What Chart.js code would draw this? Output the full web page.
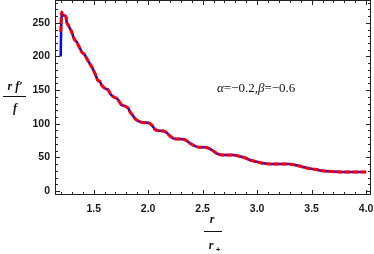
<!DOCTYPE html>
<html>
<head>
<meta charset="utf-8">
<script src="https://cdn.jsdelivr.net/npm/chart.js@4/dist/chart.umd.min.js"></script>
<style>
  html, body { margin: 0; padding: 0; background: #fff; }
  canvas { display: block; }
</style>
</head>
<body>
<canvas id="plot" width="374" height="254"></canvas>
<script>
// =======================
// Data
// =======================
const rValues = [
  1.197, 1.206, 1.221, 1.246, 1.252, 1.267, 1.282, 1.298, 1.313, 1.328,
  1.344, 1.359, 1.374, 1.390, 1.420, 1.436, 1.482, 1.512, 1.537, 1.558,
  1.573, 1.604, 1.634, 1.650, 1.680, 1.711, 1.726, 1.757, 1.787, 1.818,
  1.834, 1.860, 1.890, 1.925, 1.971, 2.001, 2.033, 2.063, 2.093, 2.139,
  2.170, 2.201, 2.231, 2.277, 2.323, 2.354, 2.384, 2.430, 2.476, 2.522,
  2.584, 2.629, 2.675, 2.721, 2.782, 2.828, 2.874, 2.935, 2.997, 3.057,
  3.119, 3.226, 3.287, 3.348, 3.410, 3.471, 3.532, 3.594, 3.654, 3.716,
  3.808, 3.899, 4.000
];
// red dashed curve (drawn on top)
const redValues = [
  236.6, 266.3, 261.4, 258.9, 251.5, 246.6, 241.7, 236.6, 229.2, 224.3,
  221.8, 216.9, 212.0, 206.9, 202.0, 197.1, 184.6, 174.8, 164.9, 162.4,
  157.5, 152.6, 150.0, 145.1, 140.1, 137.7, 135.2, 127.7, 126.3, 122.8,
  117.5, 112.0, 106.0, 102.9, 101.5, 101.5, 98.0, 91.7, 89.6, 89.1,
  86.6, 81.7, 78.3, 77.2, 76.8, 74.7, 70.9, 66.8, 64.9, 64.9,
  60.9, 56.0, 53.5, 53.5, 53.5, 52.0, 50.1, 46.0, 43.5, 41.1,
  40.1, 40.1, 40.1, 38.6, 36.1, 33.7, 32.2, 30.2, 29.3, 28.7,
  28.2, 28.2, 28.2
];
// blue solid curve: same as red except the very start
const blueValues = [200.0, 262.0].concat(redValues.slice(2));

const xTicks = [1.5, 2.0, 2.5, 3.0, 3.5, 4.0];
const yTicks = [0, 50, 100, 150, 200, 250];

const xRange = [1.145, 4.045];
const yRange = [-6, 284];

// =======================
// Helpers
// =======================
function toPoints(xs, ys) {
  return xs.map((x, i) => ({ x: x, y: ys[i] }));
}

// frame, inward ticks, axis labels and the parameter note
const framePlugin = {
  id: 'frame',
  afterDraw(chart) {
    const ctx = chart.ctx;
    const a = chart.chartArea;
    const xs = chart.scales.x, ys = chart.scales.y;
    ctx.save();
    ctx.strokeStyle = '#222';
    ctx.lineWidth = 1;
    ctx.strokeRect(a.left + 0.5, a.top + 0.5, a.right - a.left - 1, a.bottom - a.top - 1);

    ctx.beginPath();
    for (let i = 12; i <= 40; i++) {
      const v = i / 10;
      const px = Math.round(xs.getPixelForValue(v)) + 0.5;
      const len = (i % 5 === 0) ? 5 : 3;
      ctx.moveTo(px, a.bottom); ctx.lineTo(px, a.bottom - len);
      ctx.moveTo(px, a.top); ctx.lineTo(px, a.top + len);
    }
    for (let v = 0; v <= 280; v += 10) {
      const py = Math.round(ys.getPixelForValue(v)) + 0.5;
      const len = (v % 50 === 0) ? 5 : 3;
      ctx.moveTo(a.left, py); ctx.lineTo(a.left + len, py);
      ctx.moveTo(a.right, py); ctx.lineTo(a.right - len, py);
    }
    ctx.stroke();

    // y label: r f' / f
    ctx.fillStyle = '#111';
    ctx.textAlign = 'center';
    ctx.textBaseline = 'alphabetic';
    ctx.font = "bold italic 12px 'Liberation Serif', serif";
    ctx.fillText('r f\u2032', 15, 90);
    ctx.fillText('f', 15, 112);
    ctx.fillRect(3, 96, 23, 1);

    // x label: r / r+
    ctx.fillText('r', 212, 223);
    ctx.fillRect(204, 231, 18, 1);
    ctx.fillText('r', 211, 249);
    ctx.font = "bold 8px 'Liberation Sans', sans-serif";
    ctx.fillText('+', 218, 252);

    // parameter note
    ctx.textAlign = 'left';
    let x = 217;
    const parts = [['\u03B1', true], ['=\u22120.2,', false], ['\u03B2', true], ['=\u22120.6', false]];
    parts.forEach(p => {
      ctx.font = (p[1] ? 'italic ' : '') + "13px 'Liberation Serif', serif";
      ctx.fillText(p[0], x, 92);
      x += ctx.measureText(p[0]).width;
    });
    ctx.restore();
  }
};

// =======================
// Chart
// =======================
Chart.defaults.font.family = "'Liberation Sans', Arial, sans-serif";

new Chart(document.getElementById('plot').getContext('2d'), {
  type: 'scatter',
  data: {
    datasets: [
      {
        data: toPoints(rValues, redValues),
        showLine: true,
        borderColor: 'rgb(255,0,0)',
        borderWidth: 3,
        borderDash: [6, 2],
        pointRadius: 0,
        cubicInterpolationMode: 'monotone',
        order: 0
      },
      {
        data: toPoints(rValues, blueValues),
        showLine: true,
        borderColor: 'rgb(0,0,255)',
        borderWidth: 2.5,
        pointRadius: 0,
        cubicInterpolationMode: 'monotone',
        order: 1
      }
    ]
  },
  options: {
    responsive: false,
    animation: false,
    layout: { padding: { left: 0, right: 3, top: 0, bottom: 0 } },
    plugins: { legend: { display: false }, tooltip: { enabled: false } },
    scales: {
      x: {
        type: 'linear',
        min: xRange[0], max: xRange[1],
        grid: { display: false, drawTicks: false },
        border: { display: false },
        afterBuildTicks: s => { s.ticks = xTicks.map(v => ({ value: v })); },
        afterFit: s => { s.height = 59; s.paddingLeft = 0; s.paddingRight = 0; },
        ticks: {
          maxRotation: 0,
          padding: 8,
          color: '#1a1a1a',
          font: { size: 10.5, weight: 'bold' },
          callback: v => v.toFixed(1)
        }
      },
      y: {
        type: 'linear',
        min: yRange[0], max: yRange[1],
        grid: { display: false, drawTicks: false },
        border: { display: false },
        afterBuildTicks: s => { s.ticks = yTicks.map(v => ({ value: v })); },
        afterFit: s => { s.width = 55; s.paddingTop = 0; s.paddingBottom = 0; },
        ticks: {
          padding: 5,
          color: '#1a1a1a',
          font: { size: 10.5, weight: 'bold' },
          callback: v => String(v)
        }
      }
    }
  },
  plugins: [framePlugin]
});
</script>
</body>
</html>
